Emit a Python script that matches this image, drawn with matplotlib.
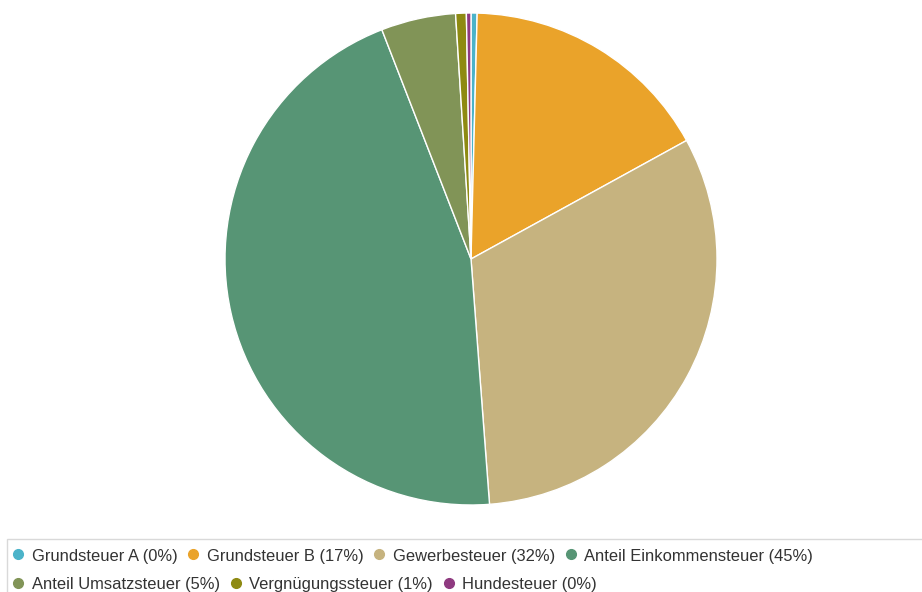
import matplotlib
matplotlib.use("Agg")
import matplotlib.pyplot as plt
from matplotlib.lines import Line2D
from matplotlib.patches import Rectangle

labels = ["Grundsteuer A", "Grundsteuer B", "Gewerbesteuer", "Anteil Einkommensteuer",
          "Anteil Umsatzsteuer", "Vergnügungssteuer", "Hundesteuer"]
values = [0.4, 16.6, 31.8, 45.3, 4.9, 0.7, 0.3]
pct_labels = ["0%", "17%", "32%", "45%", "5%", "1%", "0%"]
colors = ["#4BB3C9", "#EAA32A", "#C6B37F", "#579575", "#819457", "#8E8A12", "#8F3A80"]
legend_rows = [[0, 1, 2, 3], [4, 5, 6]]

W, H = 922, 592
fig = plt.figure(figsize=(W / 100, H / 100), dpi=100)
plt.rcParams["font.family"] = ["Liberation Sans", "DejaVu Sans"]

# pie: center (471, 259), radius 246 px
ax = fig.add_axes([225 / W, (H - 505) / H, 492 / W, 492 / H])
ax.pie(values, colors=colors, startangle=90, counterclock=False,
       wedgeprops=dict(edgecolor="white", linewidth=1))
ax.set_xlim(-1, 1)
ax.set_ylim(-1, 1)
ax.set_aspect("equal")

# legend box
fig.add_artist(Rectangle((7 / W, -0.01), (W - 6) / W, (H - 539) / H + 0.01,
                         transform=fig.transFigure, facecolor="white",
                         edgecolor="#d9d9d9", linewidth=1))

fig.canvas.draw()
renderer = fig.canvas.get_renderer()
row_y = [554, 582.5]
for r, idx in enumerate(legend_rows):
    x = 18
    for i in idx:
        y = (H - row_y[r]) / H
        fig.add_artist(Line2D([x / W], [y], marker="o", markersize=7, color=colors[i],
                              linestyle="none", transform=fig.transFigure))
        t = fig.text((x + 13.5) / W, (H - row_y[r] - 6.5) / H,
                     f"{labels[i]} ({pct_labels[i]})", fontsize=11.85,
                     color="#333333", va="baseline", ha="left")
        w = t.get_window_extent(renderer).width
        x = x + 13.5 + w + 16

fig.savefig("out.png", dpi=100)
